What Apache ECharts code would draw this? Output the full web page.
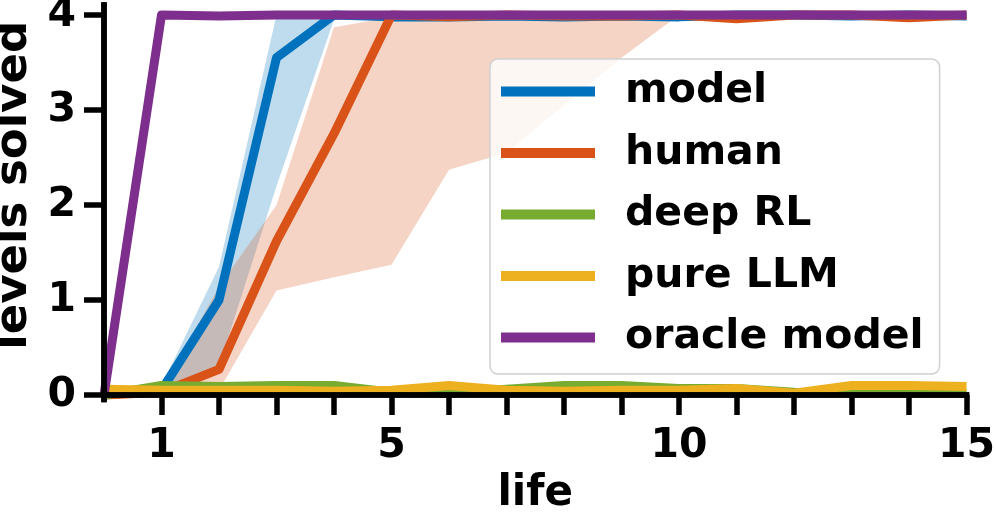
<!DOCTYPE html>
<html>
<head>
<meta charset="utf-8">
<script src="https://cdn.jsdelivr.net/npm/echarts@6/dist/echarts.min.js"></script>
<style>
  html, body { margin: 0; padding: 0; background: #fff; }
  #chart { width: 996px; height: 514px; }
</style>
</head>
<body>
<div id="chart"></div>
<script>
// x values (life number)
var lives = [0, 1, 2, 3, 4, 5, 6, 7, 8, 9, 10, 11, 12, 13, 14, 15]
var tickLives = [1, 2, 3, 4, 5, 6, 7, 8, 9, 10, 11, 12, 13, 14, 15]
var labelLives = [1, 5, 10, 15]
var levelTicks = [0, 1, 2, 3, 4]

// mean curves
var modelMean = [0, 0.05, 1.0, 3.55, 4.0, 3.98, 3.98, 3.99, 3.98, 3.99, 3.98, 4.0, 4.0, 3.99, 4.0, 3.99]
var humanMean = [0, 0.03, 0.27, 1.62, 2.75, 4.0, 3.98, 4.0, 3.99, 3.99, 4.0, 3.96, 4.0, 4.0, 3.97, 4.0]
var deepRL = [0, 0.1, 0.09, 0.1, 0.1, 0.03, 0.02, 0.06, 0.1, 0.1, 0.07, 0.07, 0.03, 0.02, 0.02, 0.02]
var pureLLM = [0.06, 0.05, 0.05, 0.05, 0.04, 0.05, 0.1, 0.05, 0.04, 0.05, 0.05, 0.07, 0.02, 0.1, 0.1, 0.09]
var oracle = [0, 4.0, 3.99, 4.0, 4.0, 4.0, 4.0, 4.0, 4.0, 4.0, 4.0, 4.0, 4.0, 4.0, 4.0, 4.0]

// shaded ranges
var modelLow = [0, 0, 0.3, 2.2, 3.95, 3.96, 3.96, 3.97, 3.96, 3.97, 3.96, 3.98, 3.98, 3.97, 3.98, 3.97]
var modelHigh = [0, 0.1, 1.35, 4.0, 4.0, 4.0, 4.0, 4.0, 4.0, 4.0, 4.0, 4.0, 4.0, 4.0, 4.0, 4.0]
var humanLow = [0, 0, 0.05, 1.1, 1.24, 1.37, 2.37, 2.55, 3.05, 3.55, 4.0, 3.92, 3.98, 3.98, 3.93, 3.98]
var humanHigh = [0, 0.05, 1.14, 2.0, 3.87, 3.98, 4.0, 4.0, 4.0, 4.0, 4.0, 4.0, 4.0, 4.0, 4.0, 4.0]

var names = ['model', 'human', 'deep RL', 'pure LLM', 'oracle model']
var colors = ['#0072BD', '#D95319', '#77AC30', '#EDB120', '#7E2F8E']

var font = 'DejaVu Sans'

function pairs(ys) {
  var out = []
  for (var i = 0; i < lives.length; i++) out.push([lives[i], ys[i]])
  return out
}

// shaded band between lo and hi, drawn as one polygon through the axes
function band(id, lo, hi, color) {
  return {
    name: id, type: 'custom', silent: true, z: 1,
    data: [[0]],
    renderItem: function (params, api) {
      var pts = []
      for (var i = 0; i < lives.length; i++) pts.push(api.coord([lives[i], hi[i]]))
      for (var j = lives.length - 1; j >= 0; j--) pts.push(api.coord([lives[j], lo[j]]))
      return {
        type: 'polygon',
        shape: { points: pts },
        style: { fill: color, opacity: 0.25 }
      }
    }
  }
}

function line(i, ys) {
  return {
    name: names[i], type: 'line', data: pairs(ys),
    showSymbol: false, z: 3 + i,
    itemStyle: { color: colors[i] },
    lineStyle: { color: colors[i], width: 9, join: 'round' }
  }
}

var chart = echarts.init(document.getElementById('chart'))

var axisLine = { show: true, lineStyle: { color: '#000', width: 5.5, cap: 'square' } }
var labelStyle = { fontFamily: font, fontWeight: 'bold', fontSize: 41, color: '#000' }

var series = []
series.push(band('modelBand', modelLow, modelHigh, colors[0]))
series.push(band('humanBand', humanLow, humanHigh, colors[1]))
series.push(line(0, modelMean))
series.push(line(1, humanMean))
series.push(line(2, deepRL))
series.push(line(3, pureLLM))
series.push(line(4, oracle))

chart.setOption({
  animation: false,
  backgroundColor: '#fff',
  grid: { left: 104, right: 29.5, top: 5, bottom: 114.5, outerBoundsMode: 'none', containLabel: false },
  legend: {
    data: names,
    orient: 'vertical',
    left: 490,
    top: 59,
    icon: 'rect',
    itemWidth: 94,
    itemHeight: 10,
    itemGap: 20.5,
    padding: [12, 16, 16, 11],
    backgroundColor: 'rgba(255,255,255,0.8)',
    borderColor: '#d0d0d0',
    borderWidth: 1.5,
    borderRadius: 8,
    textStyle: {
      fontFamily: font, fontWeight: 'bold', fontSize: 41, color: '#000',
      lineHeight: 41, padding: [0, 0, 0, 25]
    }
  },
  xAxis: [
    {
      type: 'value', min: 0, max: 15, position: 'bottom', z: 10,
      name: 'life', nameLocation: 'middle', nameGap: 74,
      nameTextStyle: { fontFamily: font, fontWeight: 'bold', fontSize: 42, color: '#000' },
      axisLine: axisLine,
      axisTick: { show: true, customValues: tickLives, length: 20, lineStyle: { color: '#000', width: 5.5 } },
      axisLabel: Object.assign({ customValues: labelLives, margin: 26 }, labelStyle),
      splitLine: { show: false }
    },
    {
      type: 'value', min: 0, max: 15, position: 'top', z: 10,
      axisLine: axisLine, axisTick: { show: false }, axisLabel: { show: false }, splitLine: { show: false }
    }
  ],
  yAxis: [
    {
      type: 'value', min: -0.047, max: 4.105, position: 'left', z: 10,
      name: 'levels solved', nameLocation: 'middle', nameGap: 62, nameRotate: 90,
      nameTextStyle: { fontFamily: font, fontWeight: 'bold', fontSize: 45, color: '#000', padding: [0, 0, 0, 34] },
      axisLine: axisLine,
      axisTick: { show: true, customValues: levelTicks, length: 20, lineStyle: { color: '#000', width: 5.5 } },
      axisLabel: Object.assign({ customValues: levelTicks, margin: 28 }, labelStyle),
      splitLine: { show: false }
    },
    {
      type: 'value', min: -0.047, max: 4.105, position: 'right', z: 10,
      axisLine: axisLine, axisTick: { show: false }, axisLabel: { show: false }, splitLine: { show: false }
    }
  ],
  series: series
})
</script>
</body>
</html>
